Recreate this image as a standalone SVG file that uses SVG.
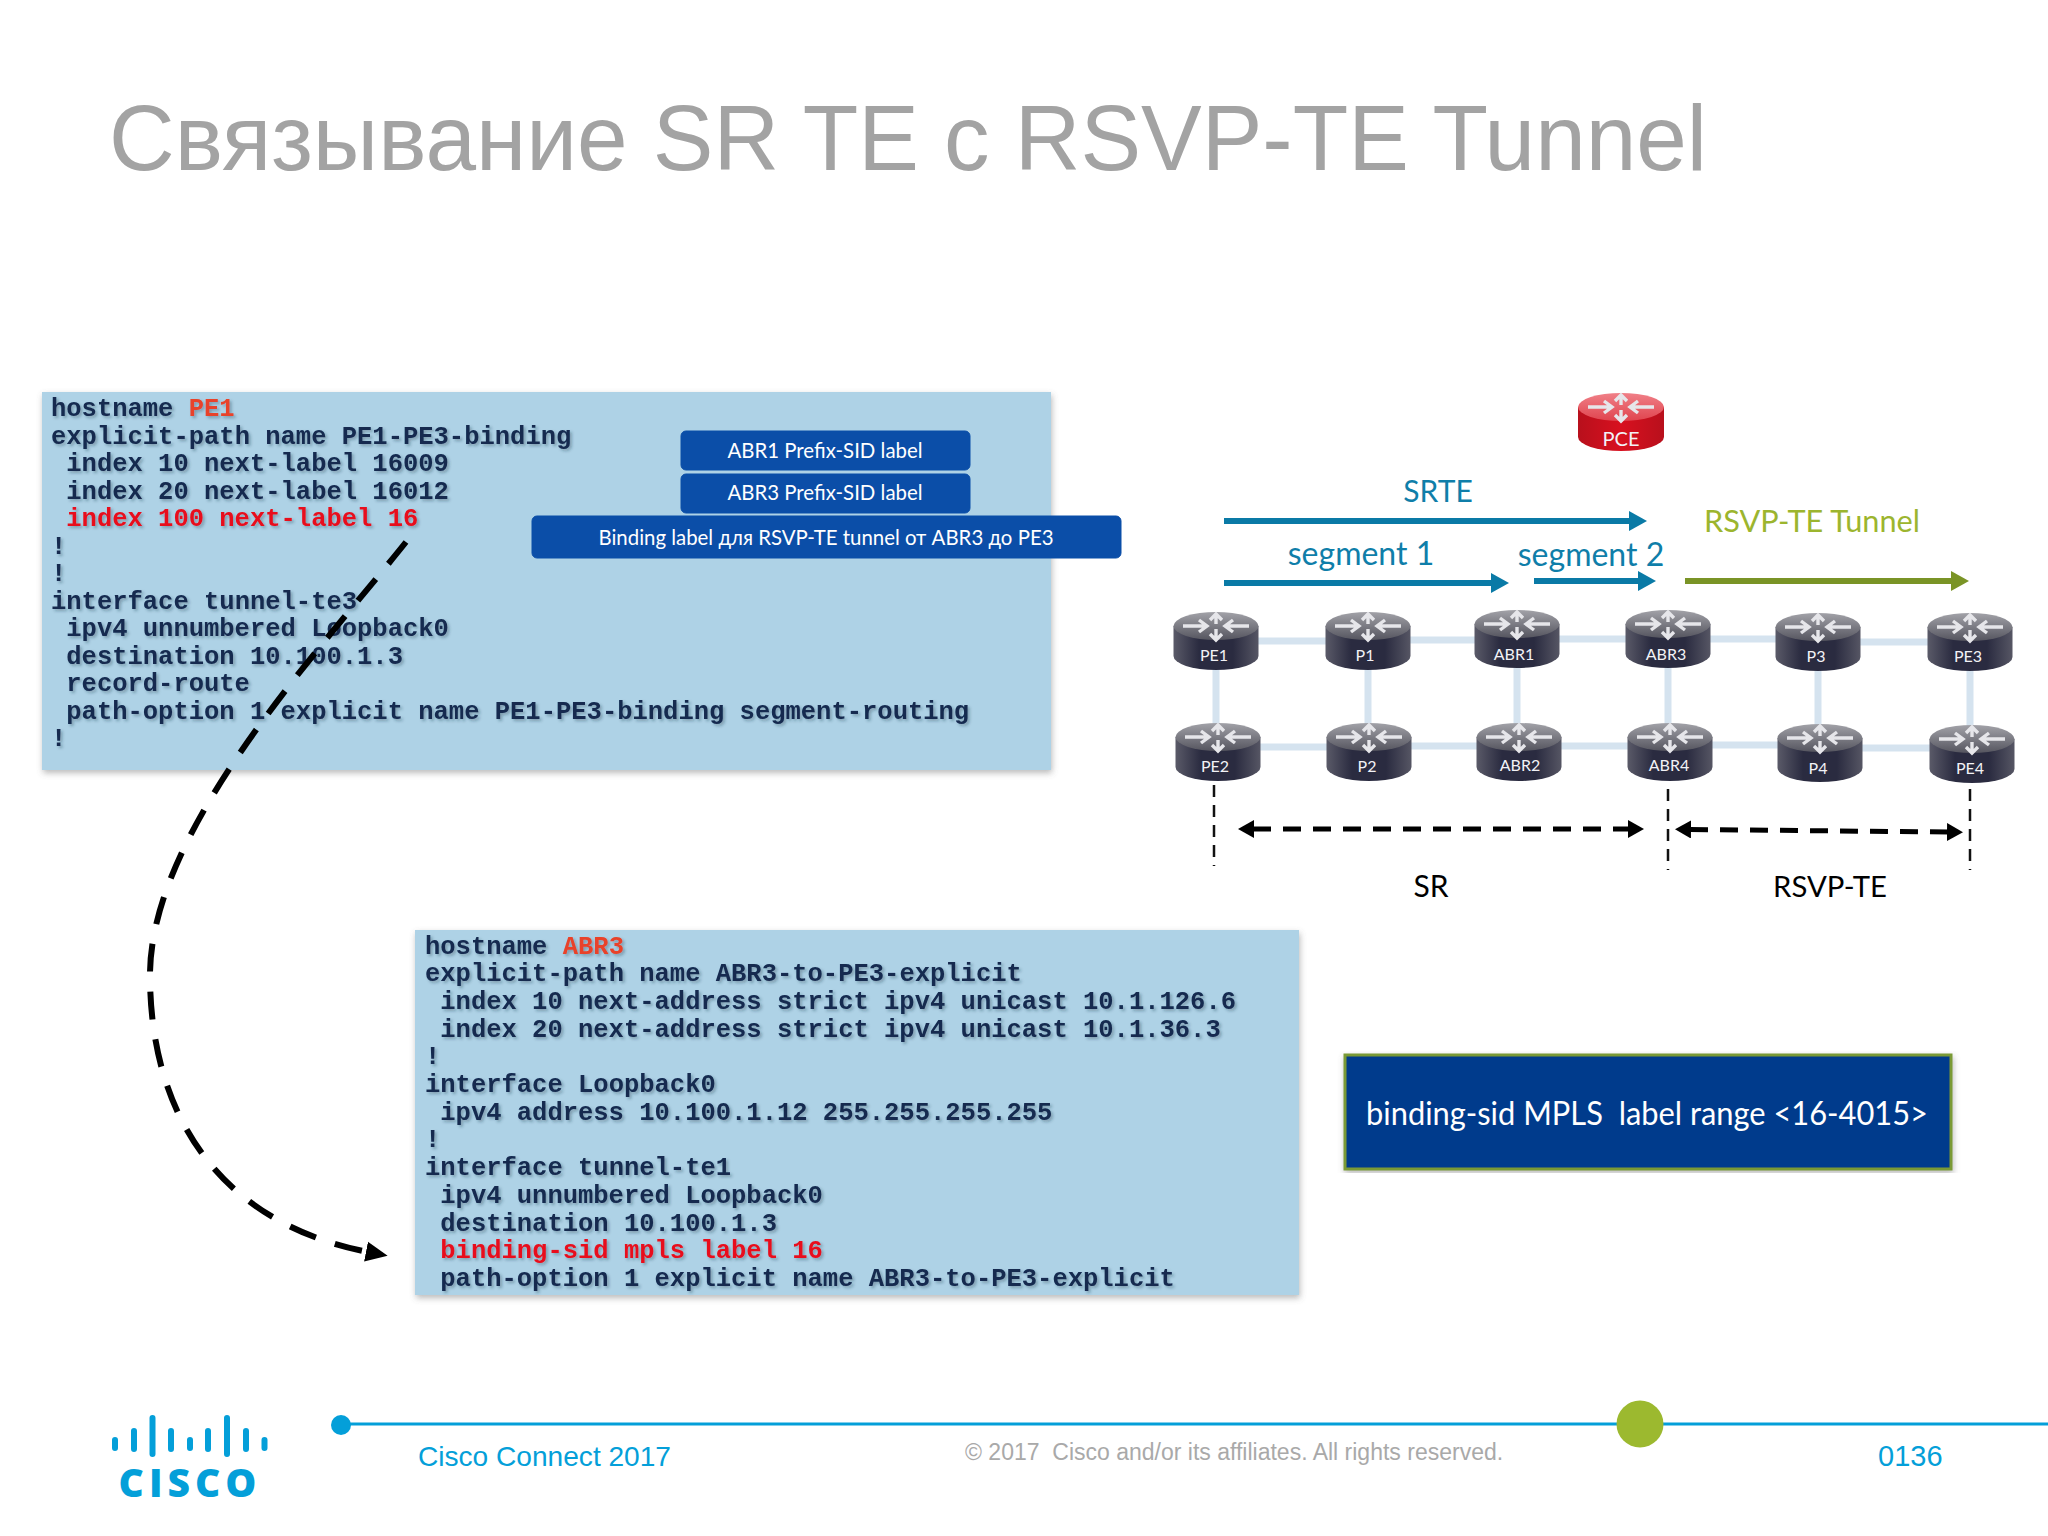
<svg xmlns="http://www.w3.org/2000/svg" width="2048" height="1536" viewBox="0 0 2048 1536">
<style>
.code{font-family:"Liberation Mono",monospace;font-weight:700;font-size:25.5px;fill:#13294f;filter:url(#ts)}
.red{fill:#e8101c}.host{fill:#e8432a}
.btn{fill:#0b4ea8;stroke:#0b4ea8}
.btxt{font-family:Lato,"Noto Sans",sans-serif;fill:#fff;font-size:20.4px;text-anchor:middle}
.rl{font-family:Lato,"Noto Sans",sans-serif;fill:#f2f2f6;font-size:16px;text-anchor:middle}
.link{stroke:#d5e3ef;stroke-width:7;fill:none}
.bl{stroke:#0a7aa6;stroke-width:6;fill:none;marker-end:url(#hb)}
.gr{stroke:#7a9426;stroke-width:6;fill:none;marker-end:url(#hg)}
.t30{font-family:Lato,"Noto Sans",sans-serif;font-size:30px}
.blue{fill:#0f7ea9}
.vd{stroke:#111;stroke-width:2.5;stroke-dasharray:12 8;fill:none}
.dd{stroke:#000;stroke-width:5;stroke-dasharray:18 12;fill:none;marker-start:url(#ks);marker-end:url(#ke)}
.bar{stroke:#049fd9;stroke-width:6;stroke-linecap:round}
.foot{font-family:"Liberation Sans",Arial,sans-serif}
</style>
<defs>
<filter id="ps" x="-3%" y="-3%" width="106%" height="106%"><feDropShadow dx="1" dy="3" stdDeviation="3" flood-color="#666" flood-opacity=".45"/></filter>
<filter id="ts" x="-3%" y="-20%" width="106%" height="150%"><feDropShadow dx="2" dy="2" stdDeviation="1.5" flood-color="#234" flood-opacity=".35"/></filter>
<linearGradient id="side" x1="0" x2="1" y1="0" y2="0"><stop offset="0" stop-color="#5a5a68"/><stop offset=".3" stop-color="#2a2b40"/><stop offset=".7" stop-color="#2a2b40"/><stop offset="1" stop-color="#565664"/></linearGradient>
<linearGradient id="face" x1="0" x2="0" y1="0" y2="1"><stop offset="0" stop-color="#a2a2a8"/><stop offset="1" stop-color="#55555f"/></linearGradient>
<linearGradient id="rside" x1="0" x2="1" y1="0" y2="0"><stop offset="0" stop-color="#b8101c"/><stop offset=".5" stop-color="#d8101f"/><stop offset="1" stop-color="#b8101c"/></linearGradient>
<linearGradient id="rface" x1="0" x2="0" y1="0" y2="1"><stop offset="0" stop-color="#f08088"/><stop offset="1" stop-color="#e0444e"/></linearGradient>
<g id="arrows" fill="none" stroke="#e6e6ea" stroke-width="3.4">
<path d="M-33 14H-10M-17 8L-9 14L-17 20M33 14H10M17 8L9 14L17 20M0 12V4M-6 8L0 2L6 8M0 17V27M-6 22L0 28L6 22"/>
</g>
<g id="router"><path d="M-42.500 14V44A42.500 14 0 0 0 42.500 44V14Z" fill="url(#side)"/><ellipse cx="0" cy="14" rx="42.500" ry="14" fill="url(#face)"/><use href="#arrows"/></g>
<g id="pce"><path d="M-43 14V44A43 14 0 0 0 43 44V14Z" fill="url(#rside)"/><ellipse cx="0" cy="14" rx="43" ry="14" fill="url(#rface)"/><use href="#arrows"/></g>
<marker id="hb" markerUnits="userSpaceOnUse" markerWidth="18" markerHeight="20" refX="1" refY="10" orient="auto"><path d="M0 0L18 10L0 20Z" fill="#0a7aa6"/></marker>
<marker id="hg" markerUnits="userSpaceOnUse" markerWidth="18" markerHeight="20" refX="1" refY="10" orient="auto"><path d="M0 0L18 10L0 20Z" fill="#7a9426"/></marker>
<marker id="ke" markerUnits="userSpaceOnUse" markerWidth="16" markerHeight="18" refX="1" refY="9" orient="auto"><path d="M0 0L16 9L0 18Z" fill="#000"/></marker>
<marker id="ks" markerUnits="userSpaceOnUse" markerWidth="16" markerHeight="18" refX="15" refY="9" orient="auto"><path d="M16 0L0 9L16 18Z" fill="#000"/></marker>
<marker id="kc" markerUnits="userSpaceOnUse" markerWidth="22" markerHeight="22" refX="2" refY="11" orient="auto"><path d="M0 1L22 11L0 21Z" fill="#000"/></marker>
</defs>
<rect width="2048" height="1536" fill="#fff"/>
<text id="title" class="foot" x="109" y="170" font-size="92" fill="#a3a3a3" textLength="1598" lengthAdjust="spacingAndGlyphs">Связывание SR TE с RSVP-TE Tunnel</text>

<g id="panel-pe1">
<rect x="42" y="392" width="1009" height="378" fill="#aed2e6" filter="url(#ps)"/>
<g class="code">
<text x="51" y="416">hostname <tspan class="host">PE1</tspan></text>
<text x="51" y="443.500">explicit-path name PE1-PE3-binding</text>
<text x="66.300" y="471">index 10 next-label 16009</text>
<text x="66.300" y="498.500">index 20 next-label 16012</text>
<text x="66.300" y="526" class="red">index 100 next-label 16</text>
<text x="51" y="553.500">!</text>
<text x="51" y="581">!</text>
<text x="51" y="608.500">interface tunnel-te3</text>
<text x="66.300" y="636">ipv4 unnumbered Loopback0</text>
<text x="66.300" y="663.500">destination 10.100.1.3</text>
<text x="66.300" y="691">record-route</text>
<text x="66.300" y="718.500">path-option 1 explicit name PE1-PE3-binding segment-routing</text>
<text x="51" y="746">!</text>
</g>
</g>
<g id="btn-abr1"><rect class="btn" x="681" y="431" width="289" height="39" rx="5"/><text class="btxt" x="825" y="458">ABR1 Prefix-SID label</text></g>
<g id="btn-abr3"><rect class="btn" x="681" y="474" width="289" height="39" rx="5"/><text class="btxt" x="825" y="500">ABR3 Prefix-SID label</text></g>
<g id="btn-binding"><rect class="btn" x="532" y="516" width="589" height="42" rx="5"/><text class="btxt" x="826" y="545">Binding label для RSVP-TE tunnel от ABR3 до PE3</text></g>

<g id="panel-abr3">
<rect x="415" y="930" width="884" height="365" fill="#aed2e6" filter="url(#ps)"/>
<g class="code">
<text x="425" y="953.500">hostname <tspan class="host">ABR3</tspan></text>
<text x="425" y="981.200">explicit-path name ABR3-to-PE3-explicit</text>
<text x="440.300" y="1008.900">index 10 next-address strict ipv4 unicast 10.1.126.6</text>
<text x="440.300" y="1036.600">index 20 next-address strict ipv4 unicast 10.1.36.3</text>
<text x="425" y="1064.300">!</text>
<text x="425" y="1092">interface Loopback0</text>
<text x="440.300" y="1119.700">ipv4 address 10.100.1.12 255.255.255.255</text>
<text x="425" y="1147.400">!</text>
<text x="425" y="1175.100">interface tunnel-te1</text>
<text x="440.300" y="1202.800">ipv4 unnumbered Loopback0</text>
<text x="440.300" y="1230.500">destination 10.100.1.3</text>
<text x="440.300" y="1258.200" class="red">binding-sid mpls label 16</text>
<text x="440.300" y="1285.900">path-option 1 explicit name ABR3-to-PE3-explicit</text>
</g>
</g>

<g id="connectors">
<path d="M406 542C320 650 150 830 150 975C150 1110 215 1222 368 1252" fill="none" stroke="#000" stroke-width="6" stroke-dasharray="28 20" marker-end="url(#kc)"/>
<g>
<path class="link" d="M1216 641H1368"/><path class="link" d="M1368 640H1517"/><path class="link" d="M1517 639H1668"/><path class="link" d="M1668 639H1818"/><path class="link" d="M1818 642H1970"/>
<path class="link" d="M1218 747H1369"/><path class="link" d="M1369 746H1519"/><path class="link" d="M1519 746H1670"/><path class="link" d="M1670 745H1820"/><path class="link" d="M1820 748H1972"/>
<path class="link" d="M1216 640V750"/><path class="link" d="M1368 640V750"/><path class="link" d="M1517 640V750"/><path class="link" d="M1668 640V750"/><path class="link" d="M1818 640V750"/><path class="link" d="M1970 640V750"/>
</g>
<path class="bl" d="M1224 521H1630"/>
<path class="bl" d="M1224 583H1492"/>
<path class="bl" d="M1534 581H1639"/>
<path class="gr" d="M1685 581H1952"/>
<path class="vd" d="M1214 785V866"/><path class="vd" d="M1668 789V870"/><path class="vd" d="M1970 789V870"/>
<path class="dd" d="M1253 829H1629"/>
<path class="dd" d="M1690 829.500L1948 832"/>
</g>

<g id="PCE"><use href="#pce" x="1621" y="393"/><text class="rl" x="1621" y="446" style="font-size:20px">PCE</text></g>
<g id="PE1"><use href="#router" x="1216" y="612"/><text class="rl" x="1214" y="661">PE1</text></g>
<g id="P1"><use href="#router" x="1368" y="612"/><text class="rl" x="1365" y="661">P1</text></g>
<g id="ABR1"><use href="#router" x="1517" y="610"/><text class="rl" x="1514" y="660">ABR1</text></g>
<g id="ABR3"><use href="#router" x="1668" y="610"/><text class="rl" x="1666" y="660">ABR3</text></g>
<g id="P3"><use href="#router" x="1818" y="613"/><text class="rl" x="1816" y="662">P3</text></g>
<g id="PE3"><use href="#router" x="1970" y="613"/><text class="rl" x="1968" y="662">PE3</text></g>
<g id="PE2"><use href="#router" x="1218" y="723"/><text class="rl" x="1215" y="772">PE2</text></g>
<g id="P2"><use href="#router" x="1369" y="723"/><text class="rl" x="1367" y="772">P2</text></g>
<g id="ABR2"><use href="#router" x="1519" y="723"/><text class="rl" x="1520" y="771">ABR2</text></g>
<g id="ABR4"><use href="#router" x="1670" y="723"/><text class="rl" x="1669" y="771">ABR4</text></g>
<g id="P4"><use href="#router" x="1820" y="724"/><text class="rl" x="1818" y="774">P4</text></g>
<g id="PE4"><use href="#router" x="1972" y="725"/><text class="rl" x="1970" y="774">PE4</text></g>

<text class="t30 blue" x="1438" y="502" text-anchor="middle">SRTE</text>
<text class="t30 blue" x="1361" y="565" text-anchor="middle" style="font-size:32px">segment 1</text>
<text class="t30 blue" x="1591" y="566" text-anchor="middle" style="font-size:32px">segment 2</text>
<text class="t30" x="1812" y="532" text-anchor="middle" fill="#9cb52e" style="font-size:30.700px">RSVP-TE Tunnel</text>
<text class="t30" x="1431" y="897" text-anchor="middle" fill="#000">SR</text>
<text class="t30" x="1830" y="897" text-anchor="middle" fill="#000" style="font-size:29.300px">RSVP-TE</text>

<g id="range-box"><rect x="1345" y="1055" width="606" height="114" fill="#053a8c" stroke="#7a9a35" stroke-width="3" filter="url(#ps)"/>
<text x="1366" y="1125" font-family="Lato,'Noto Sans',sans-serif" font-size="32" fill="#fff" xml:space="preserve" textLength="562" lengthAdjust="spacingAndGlyphs">binding-sid MPLS  label range &lt;16-4015&gt;</text></g>

<g id="footer">
<path d="M341 1424H2048" stroke="#049fd9" stroke-width="3"/>
<circle cx="341" cy="1425" r="10" fill="#049fd9"/>
<circle cx="1640" cy="1424" r="23.500" fill="#9cb92f"/>
<text class="foot" x="418" y="1466" font-size="28.100" fill="#049fd9">Cisco Connect 2017</text>
<text class="foot" x="965" y="1460" font-size="23" fill="#a9a9a9" xml:space="preserve">© 2017  Cisco and/or its affiliates. All rights reserved.</text>
<text class="foot" x="1878" y="1466" font-size="29" fill="#049fd9">0136</text>
</g>
<g id="cisco-logo">
<path class="bar" d="M115 1440V1448M134 1431V1449M152.500 1418V1454M171 1431V1449M190 1440V1448M208 1431V1449M227 1418V1454M246 1431V1449M264.500 1440V1448"/>
<text x="190" y="1497" text-anchor="middle" font-family="'Open Sans',sans-serif" font-weight="800" font-size="39" letter-spacing="5" fill="#049fd9">CISCO</text>
</g>
</svg>
